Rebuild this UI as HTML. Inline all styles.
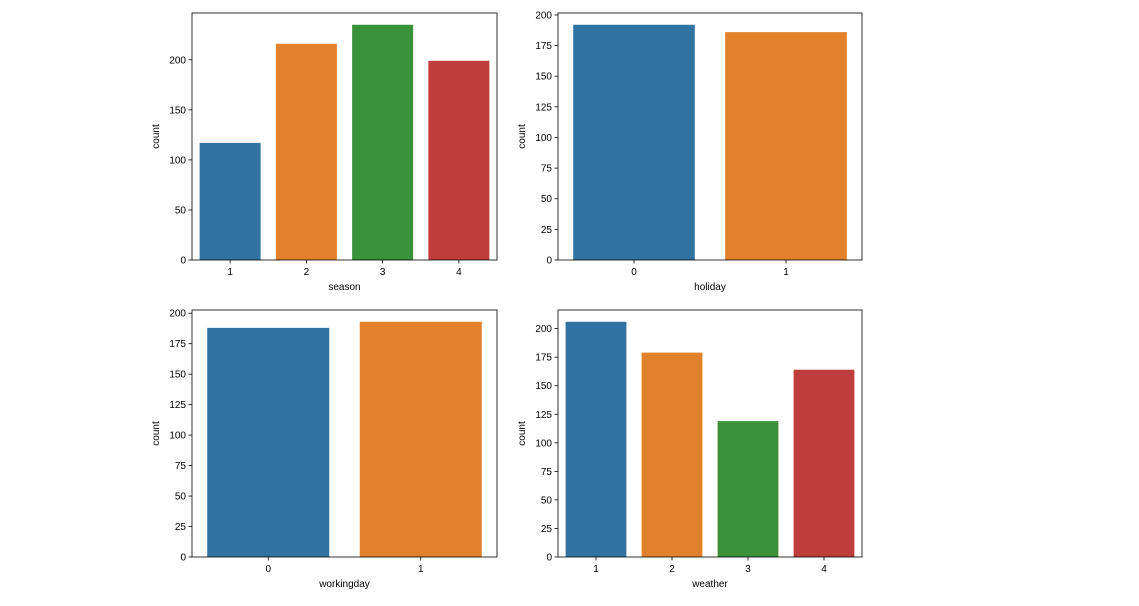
<!DOCTYPE html>
<html><head><meta charset="utf-8"><style>
body{margin:0;background:#fff;width:1139px;height:601px;overflow:hidden}
svg{font-family:"Liberation Sans","DejaVu Sans",sans-serif}
</style></head><body>
<svg id="c" width="1139" height="601"></svg>
<script>
const seasonCats=["1","2","3","4"];
const seasonVals=[117,216,235,199];
const holidayCats=["0","1"];
const holidayVals=[192,186];
const workingCats=["0","1"];
const workingVals=[188,193];
const weatherCats=["1","2","3","4"];
const weatherVals=[206,179,119,164];
const ticks200=[0,25,50,75,100,125,150,175,200];
const ticks50=[0,50,100,150,200];
const colors=["#3274a1","#e1812c","#3a923a","#c03d3e"];
const NS="http://www.w3.org/2000/svg";
const svg=document.getElementById("c");
function mk(t,a,p){const e=document.createElementNS(NS,t);for(const k in a)e.setAttribute(k,a[k]);(p||svg).appendChild(e);return e;}
function plot(name,x0,y0,w,h,cats,vals,ticks,xlabel){
  const g=mk("g",{});
  
  
  const ymax=Math.max(...vals)*1.05;
  const ys=v=>y0+h-v/ymax*h;
  const band=w/cats.length;
  cats.forEach((c,i)=>{
    const bx=x0+band*i+band*0.1;
    const r=mk("rect",{x:bx,y:ys(vals[i]),width:band*0.8,height:y0+h-ys(vals[i]),fill:colors[i]},g);
    
    
    const cx=x0+band*(i+0.5);
    mk("line",{x1:cx,x2:cx,y1:y0+h,y2:y0+h+3.5,stroke:"#000","stroke-width":0.8},g);
    const t=mk("text",{x:cx,y:y0+h+15,"font-size":10,"text-anchor":"middle"},g);t.textContent=c;
    
    
  });
  ticks.forEach(v=>{
    if(v>ymax)return;
    const y=ys(v);
    mk("line",{x1:x0-3.5,x2:x0,y1:y,y2:y,stroke:"#000","stroke-width":0.8},g);
    const t=mk("text",{x:x0-6,y:y+3.5,"font-size":10,"text-anchor":"end"},g);t.textContent=v;
    
    
  });
  mk("rect",{x:x0,y:y0,width:w,height:h,fill:"none",stroke:"#000","stroke-width":0.8},g);
  const xl=mk("text",{x:x0+w/2,y:y0+h+30,"font-size":10,"text-anchor":"middle"},g);xl.textContent=xlabel;
  
  
  const yc=y0+h/2,yx=x0-33;
  const yl=mk("text",{x:yx,y:yc,"font-size":10,"text-anchor":"middle",transform:`rotate(-90 ${yx} ${yc})`},g);yl.textContent="count";
  
  
}
plot("season",192,13,305,247,seasonCats,seasonVals,ticks50,"season");
plot("holiday",558,13,304,247,holidayCats,holidayVals,ticks200,"holiday");
plot("workingday",192,310,305,247,workingCats,workingVals,ticks200,"workingday");
plot("weather",558,310,304,247,weatherCats,weatherVals,ticks200,"weather");
</script>
</body></html>
